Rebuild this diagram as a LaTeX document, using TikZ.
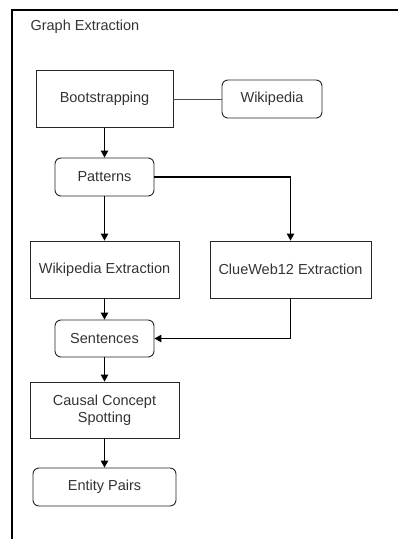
\documentclass[tikz,border=0pt]{standalone}
\usepackage{fontspec}
\setmainfont{Liberation Sans}
\usetikzlibrary{arrows.meta,positioning}
\definecolor{txtgray}{HTML}{333333}

\begin{document}
\begin{tikzpicture}[x=1pt,y=-1pt,
		box/.style={draw=black!85,line width=0.9pt,minimum width=#1,inner sep=0pt,
			text=txtgray,font=\fontsize{14.5}{17}\selectfont,align=center},
		rbox/.style={box=#1,rounded corners=6pt,minimum height=38pt},
		sbox/.style={box=#1,minimum height=57pt},
		arr/.style={-{Triangle[length=7pt,width=7.5pt]},line width=1.1pt}]
		\useasboundingbox (0,0) rectangle (398,539);
		% frame
		\draw[line width=1.5pt] (12,539) -- (12,10) -- (398,10);
		\node[anchor=west,text=txtgray,font=\fontsize{14.5}{17}\selectfont] (title) at (27,27) {Graph Extraction};
		\node[sbox=137pt] (boot) at (104.5,99) {Bootstrapping};
		\node[rbox=100pt] (wiki) at (272,99) {Wikipedia};
		\node[rbox=99pt] (pat) at (104.5,177) {Patterns};
		\node[sbox=149pt] (wikiext) at (104.5,269.5) {Wikipedia Extraction};
		\node[sbox=161pt] (clue) at (290.5,269.5) {ClueWeb12 Extraction};
		\node[rbox=99pt,minimum height=37pt] (sent) at (104.5,338.5) {Sentences};
		\node[sbox=149pt,minimum height=56pt] (causal) at (104.5,410) {Causal Concept\\Spotting};
		\node[rbox=143pt] (pairs) at (104.5,487) {Entity Pairs};
		\draw[line width=0.9pt,black!70] (boot) -- (wiki);
		\draw[arr] (boot) -- (pat);
		\draw[arr] (pat) -- (wikiext);
		\draw[arr] (pat.east) -| (clue.north);
		\draw[arr] (wikiext) -- (sent);
		\draw[arr] (clue.south) |- (sent.east);
		\draw[arr] (sent) -- (causal);
		\draw[arr] (causal) -- (pairs);
	\end{tikzpicture}
\end{document}
